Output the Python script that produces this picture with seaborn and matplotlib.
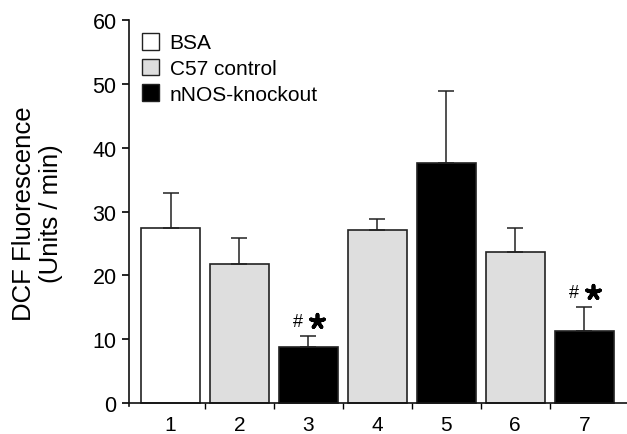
import matplotlib
matplotlib.use("Agg")
import matplotlib.pyplot as plt
import seaborn as sns
import pandas as pd
import numpy as np
from matplotlib.patches import Patch

# ---- data ----
labels = ["1", "2", "3", "4", "5", "6", "7"]
groups = ["BSA", "C57 control", "nNOS-knockout", "C57 control",
          "nNOS-knockout", "C57 control", "nNOS-knockout"]
means = [27.4, 21.8, 8.8, 27.2, 37.6, 23.6, 11.3]
errors = [5.5, 4.1, 1.7, 1.7, 11.4, 3.8, 3.8]
marked = [False, False, True, False, False, False, True]
legend_order = ["BSA", "C57 control", "nNOS-knockout"]
colors = {"BSA": "#ffffff", "C57 control": "#dedede", "nNOS-knockout": "#000000"}

df = pd.DataFrame({"bar": labels, "group": groups, "value": means})

sns.set_style("ticks")
plt.rcParams["font.family"] = ["Liberation Sans", "DejaVu Sans"]
for k in ["text.color", "axes.labelcolor", "xtick.color", "ytick.color",
          "xtick.labelcolor", "ytick.labelcolor"]:
    plt.rcParams[k] = "black"

fig = plt.figure(figsize=(6.27, 4.35), dpi=100)
ax = fig.add_axes([129 / 627, (435 - 406.5) / 435, 1 - 129 / 627, (406.5 - 24) / 435 * (60.4 / 60)])

sns.barplot(data=df, x="bar", y="value", hue="group", order=labels,
            hue_order=legend_order, palette=colors, dodge=False,
            width=0.855, edgecolor="#222222", linewidth=1.2,
            errorbar=None, legend=False, ax=ax)

xpos = np.arange(len(labels))
ax.errorbar(xpos, means, yerr=[np.zeros(len(means)), errors], fmt="none",
            ecolor="#222222", elinewidth=1.1, capsize=6, capthick=1.1, zorder=1)

for i, (m, e, mk) in enumerate(zip(means, errors, marked)):
    if mk:
        ax.text(i - 0.155, m + e + 2.3, "#", ha="center", va="center", fontsize=13)
        ax.scatter([i + 0.13], [m + e + 2.3], marker=(5, 2, 0), s=95,
                   linewidths=2.7, color="black", zorder=5)

ax.set_xlim(-0.602, 6.62)
ax.set_ylim(-0.4, 60)
ax.spines["bottom"].set_position(("data", 0))
ax.spines["top"].set_visible(False)
ax.spines["right"].set_visible(False)
for s in ["left", "bottom"]:
    ax.spines[s].set_linewidth(1.2)
    ax.spines[s].set_color("#111111")

ax.set_yticks([0, 10, 20, 30, 40, 50, 60])
ax.set_xticks(xpos)
ax.set_xticklabels(labels)
ax.set_xticks(xpos[:-1] + 0.5, minor=True)
ax.tick_params(axis="x", which="major", length=0, labelsize=15, pad=8.5)
ax.tick_params(axis="x", which="minor", length=4, width=1.0, direction="out")
ax.tick_params(axis="y", length=5, width=1.2, labelsize=15.5, pad=4)

ax.set_xlabel("")
ax.set_ylabel("DCF Fluorescence\n(Units / min)", fontsize=18.5, labelpad=21,
              linespacing=1.15)

handles = [Patch(facecolor=colors[g], edgecolor="#222222", linewidth=1.0) for g in legend_order]
ax.legend(handles, legend_order, loc="upper left", bbox_to_anchor=(0.0, 1.0),
          frameon=False, fontsize=15, handlelength=0.85, handleheight=0.85,
          handletextpad=0.5, labelspacing=0.3, borderaxespad=0.2)

fig.savefig("out.png", dpi=100)
